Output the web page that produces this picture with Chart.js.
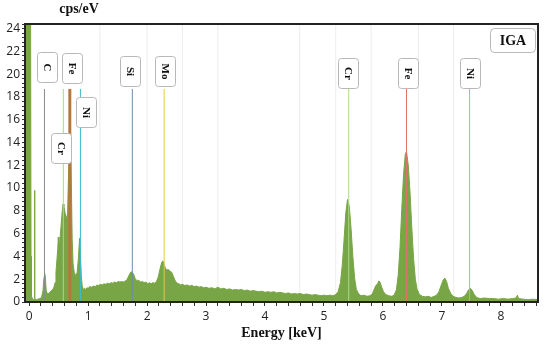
<!DOCTYPE html>
<html>
<head>
<meta charset="utf-8">
<script src="https://cdn.jsdelivr.net/npm/chart.js@4.4.1/dist/chart.umd.min.js"></script>
<style>
  html, body { margin: 0; padding: 0; background: #fff; }
</style>
</head>
<body>
<canvas id="spectrum" width="550" height="351"></canvas>
<script>
// EDS spectrum (keV, cps/eV)
const energy = [
  -0.07, 0.025, 0.032, 0.04, 0.06, 0.085, 0.092, 0.098, 0.12, 0.15, 0.18, 0.21, 0.235, 0.25, 0.265, 0.275, 0.29, 0.31, 0.34, 0.37,
  0.40, 0.42, 0.44, 0.455, 0.47, 0.485, 0.495, 0.505, 0.52, 0.54, 0.56, 0.575, 0.59, 0.61, 0.63, 0.65, 0.665, 0.68, 0.695, 0.71,
  0.72, 0.73, 0.745, 0.765, 0.79, 0.815, 0.835, 0.855, 0.87, 0.885, 0.90, 0.92, 0.94, 0.96, 0.98, 1.00, 1.03, 1.06, 1.09, 1.12,
  1.15, 1.18, 1.21, 1.24, 1.27, 1.30, 1.33, 1.36, 1.39, 1.42, 1.45, 1.48, 1.51, 1.54, 1.57, 1.60, 1.63, 1.66, 1.69, 1.72,
  1.745, 1.77, 1.80, 1.83, 1.86, 1.89, 1.92, 1.95, 1.98, 2.01, 2.04, 2.07, 2.10, 2.13, 2.16, 2.19, 2.22, 2.25, 2.27, 2.29,
  2.31, 2.33, 2.36, 2.39, 2.42, 2.45, 2.48, 2.51, 2.54, 2.57, 2.60, 2.64, 2.68, 2.72, 2.76, 2.80, 2.84, 2.88, 2.92, 2.96,
  3.00, 3.05, 3.10, 3.15, 3.20, 3.25, 3.30, 3.35, 3.40, 3.45, 3.50, 3.55, 3.60, 3.65, 3.70, 3.75, 3.80, 3.85, 3.90, 3.95,
  4.00, 4.05, 4.10, 4.15, 4.20, 4.25, 4.30, 4.35, 4.40, 4.45, 4.50, 4.55, 4.60, 4.65, 4.70, 4.75, 4.80, 4.85, 4.90, 4.95,
  5.00, 5.05, 5.10, 5.15, 5.20, 5.24, 5.28, 5.31, 5.34, 5.37, 5.40, 5.43, 5.46, 5.49, 5.52, 5.55, 5.59, 5.63, 5.68, 5.73,
  5.78, 5.82, 5.85, 5.88, 5.91, 5.93, 5.95, 5.98, 6.01, 6.05, 6.10, 6.15, 6.19, 6.23, 6.26, 6.29, 6.32, 6.35, 6.38, 6.40,
  6.43, 6.46, 6.49, 6.52, 6.55, 6.58, 6.62, 6.67, 6.72, 6.77, 6.82, 6.87, 6.91, 6.95, 6.99, 7.02, 7.05, 7.08, 7.11, 7.15,
  7.19, 7.24, 7.29, 7.34, 7.38, 7.42, 7.45, 7.48, 7.51, 7.55, 7.59, 7.65, 7.72, 7.80, 7.88, 7.96, 8.04, 8.12, 8.20, 8.26,
  8.28, 8.30, 8.38, 8.46, 8.54, 8.63
];
const counts = [
  25, 25, 4, 0.5, 0.25, 0.2, 9.8, 0.3, 0.2, 0.25, 0.3, 0.4, 1.0, 2.0, 2.5, 2.2, 1.0, 0.7, 0.8, 0.95,
  1.1, 1.3, 1.7, 2.6, 3.6, 4.6, 5.7, 4.7, 5.3, 6.6, 7.9, 8.6, 8.4, 7.8, 7.5, 7.4, 10.5, 12.6, 13.0, 12.4,
  9.0, 5.5, 3.4, 2.6, 2.3, 2.6, 3.8, 5.6, 4.2, 2.3, 1.4, 1.1, 1.2, 1.1, 1.25, 1.2, 1.35, 1.3, 1.4, 1.35,
  1.5, 1.45, 1.55, 1.5, 1.6, 1.55, 1.65, 1.6, 1.7, 1.65, 1.75, 1.7, 1.8, 1.75, 1.8, 1.75, 1.85, 1.95, 2.3, 2.6,
  2.65, 2.45, 2.05, 1.85, 1.9, 1.75, 1.8, 1.7, 1.75, 1.6, 1.7, 1.6, 1.7, 1.65, 1.8, 2.2, 2.9, 3.5, 3.6, 3.3,
  3.0, 2.8, 2.85, 2.7, 2.6, 2.2, 1.85, 1.65, 1.6, 1.5, 1.55, 1.45, 1.5, 1.4, 1.45, 1.35, 1.4, 1.3, 1.35, 1.25,
  1.3, 1.2, 1.25, 1.15, 1.3, 1.15, 1.2, 1.1, 1.15, 1.05, 1.1, 1.05, 1.1, 1.0, 1.05, 0.95, 1.0, 0.95, 0.9, 0.95,
  0.85, 0.9, 0.85, 0.9, 0.8, 0.85, 0.8, 0.75, 0.8, 0.7, 0.75, 0.7, 0.75, 0.65, 0.7, 0.65, 0.6, 0.65, 0.6, 0.55,
  0.6, 0.55, 0.6, 0.55, 0.65, 0.9, 1.7, 3.2, 5.4, 7.8, 9.0, 8.4, 6.4, 4.0, 2.1, 1.1, 0.7, 0.55, 0.6, 0.5,
  0.55, 0.7, 1.1, 1.45, 1.6, 1.85, 1.75, 1.3, 0.9, 0.65, 0.55, 0.5, 0.6, 1.1, 2.4, 4.8, 8.2, 11.2, 13.0, 13.2,
  12.0, 9.6, 6.5, 3.8, 2.0, 1.1, 0.65, 0.5, 0.45, 0.5, 0.4, 0.5, 0.6, 0.9, 1.5, 1.9, 2.1, 1.8, 1.2, 0.75,
  0.5, 0.4, 0.35, 0.4, 0.5, 0.75, 1.05, 1.2, 1.05, 0.65, 0.4, 0.3, 0.35, 0.3, 0.3, 0.25, 0.3, 0.25, 0.3, 0.35,
  0.6, 0.3, 0.25, 0.2, 0.25, 0.2
];

// element markers
const markerNames = ['C', 'Cr', 'Fe', 'Ni', 'Si', 'Mo', 'Cr', 'Fe', 'Ni'];
const markerEnergy = [0.26, 0.58, 0.69, 0.87, 1.75, 2.29, 5.42, 6.40, 7.47];
const markerTop = 18.7;
// where each name tag sits (keV, cps/eV)
const tagEnergy = [0.30, 0.54, 0.72, 0.97, 1.71, 2.30, 5.41, 6.42, 7.47];
const tagCounts = [20.6, 13.5, 20.5, 16.7, 20.3, 20.3, 20.1, 20.1, 20.1];
// pale reference lines of other elements
const faintEnergy = [1.2, 2.0, 2.6, 3.2, 4.59, 5.2, 5.8, 6.6, 7.2];

const sampleName = 'IGA';
const yTitle = 'cps/eV';
const xTitle = 'Energy [keV]';

const markerColors = ['#8a8a8a', '#a9d98c', '#b4783c', '#3cbccc', '#6a8fad', '#e8c64a', '#a9d98c', '#e0726a', '#6cc8d8'];
const markerWidths = [1, 1, 3, 1, 1, 1, 1, 1, 1];
const serif = '"Liberation Serif", "Times New Roman", serif';

const datasets = [];
markerEnergy.forEach((e, i) => {
    datasets.push({
        data: [{x: e, y: 0}, {x: e, y: markerTop}],
        showLine: true,
        borderColor: markerColors[i],
        borderWidth: markerWidths[i],
        pointRadius: 0,
        order: 1
    });
});
datasets.push({
    data: energy.map((e, i) => ({x: e, y: counts[i]})),
    showLine: true,
    fill: 'origin',
    backgroundColor: '#78a545',
    borderColor: '#78a545',
    borderWidth: 1,
    pointRadius: 0,
    order: 5
});
faintEnergy.forEach(e => {
    datasets.push({
        data: [{x: e, y: 0}, {x: e, y: 24.4}],
        showLine: true,
        borderColor: '#eceee8',
        borderWidth: 1,
        pointRadius: 0,
        order: 9
    });
});

function box(ctx, x, y, w, h, r) {
    ctx.beginPath();
    ctx.moveTo(x + r, y);
    ctx.arcTo(x + w, y, x + w, y + h, r);
    ctx.arcTo(x + w, y + h, x, y + h, r);
    ctx.arcTo(x, y + h, x, y, r);
    ctx.arcTo(x, y, x + w, y, r);
    ctx.closePath();
    ctx.fillStyle = '#fff';
    ctx.fill();
    ctx.strokeStyle = '#b8b8b8';
    ctx.lineWidth = 1;
    ctx.stroke();
}

const overlay = {
    id: 'overlay',
    afterDatasetsDraw(chart) {
        const {ctx, chartArea: a, scales: {x, y}} = chart;
        ctx.save();
        // frame
        ctx.strokeStyle = '#222';
        ctx.lineWidth = 2;
        ctx.strokeRect(a.left, a.top, a.right - a.left, a.bottom - a.top);

        // element tags
        ctx.font = 'bold 11px ' + serif;
        ctx.textAlign = 'center';
        ctx.textBaseline = 'middle';
        markerNames.forEach((name, i) => {
            const cx = Math.round(x.getPixelForValue(tagEnergy[i])) + 0.5;
            const cy = Math.round(y.getPixelForValue(tagCounts[i])) + 0.5;
            box(ctx, cx - 10, cy - 15, 20, 30, 3);
            ctx.save();
            ctx.translate(cx, cy);
            ctx.rotate(Math.PI / 2);
            ctx.fillStyle = '#111';
            ctx.fillText(name, 0, 1);
            ctx.restore();
        });

        // sample tag
        box(ctx, a.right - 47.5, a.top + 4.5, 45, 24, 4);
        ctx.font = 'bold 14px ' + serif;
        ctx.fillStyle = '#111';
        ctx.fillText(sampleName, a.right - 25, a.top + 17);

        // axis titles
        ctx.font = 'bold 14px ' + serif;
        ctx.fillText(yTitle, a.left + 54, 9);
        ctx.fillText(xTitle, (a.left + a.right) / 2, 333);
        ctx.restore();
    }
};

new Chart(document.getElementById('spectrum'), {
    type: 'scatter',
    data: { datasets: datasets },
    options: {
        responsive: false,
        animation: false,
        layout: { padding: { top: 24, right: 12, left: 0, bottom: 0 } },
        plugins: {
            legend: { display: false },
            tooltip: { enabled: false }
        },
        scales: {
            x: {
                type: 'linear',
                min: -0.07,
                max: 8.63,
                afterFit: s => { s.height = 49; },
                border: { display: false },
                grid: { drawOnChartArea: false, drawTicks: true, tickLength: 4, color: '#333' },
                ticks: {
                    stepSize: 0.2,
                    includeBounds: false,
                    autoSkip: false,
                    maxRotation: 0,
                    padding: 3,
                    color: '#222',
                    font: { family: '"Open Sans", sans-serif', size: 12 },
                    callback: v => Math.abs(v - Math.round(v)) < 1e-6 ? String(Math.round(v)) : ''
                }
            },
            y: {
                min: 0,
                max: 24.4,
                afterFit: s => { s.width = 25; },
                border: { display: false },
                grid: { drawOnChartArea: false, drawTicks: true, tickLength: 3, color: '#333' },
                ticks: {
                    stepSize: 0.4,
                    includeBounds: false,
                    autoSkip: false,
                    padding: 2,
                    color: '#222',
                    font: { family: '"Open Sans", sans-serif', size: 12 },
                    callback: v => Math.abs(v / 2 - Math.round(v / 2)) < 1e-6 ? String(Math.round(v)) : ''
                }
            }
        }
    },
    plugins: [overlay]
});
</script>
</body>
</html>
